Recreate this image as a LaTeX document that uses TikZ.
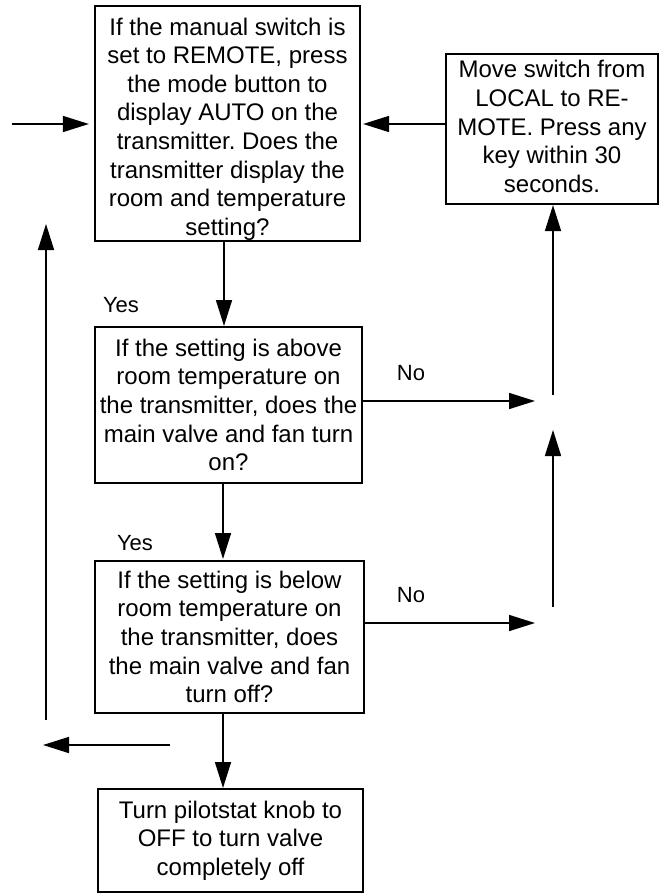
\documentclass[tikz,border=0pt]{standalone}
\usepackage{fontspec}
\setmainfont{Liberation Sans}
\frenchspacing
\usetikzlibrary{arrows.meta}
\begin{document}
\begin{tikzpicture}[x=1pt,y=-1pt,
  box/.style={draw, line width=2.2pt, inner sep=0pt, align=center, font=\fontsize{24}{28.6}\selectfont},
  txt/.style={inner sep=0pt, align=center, font=\fontsize{24}{28.6}\selectfont},
  arr/.style={line width=1.6pt, -{Triangle[length=26pt,width=16pt]}},
  lbl/.style={font=\fontsize{22}{26}\selectfont, inner sep=0pt}]
\useasboundingbox (0,0) rectangle (665,894);
\node[box, minimum width=265pt, minimum height=235pt] (b1) at (227.5,123.5) {};
\node[txt] (b1t) at ([yshift=-5.5pt]b1.center)
  {If the manual switch is\\set to REMOTE, press\\the mode button to\\display AUTO on the\\transmitter. Does the\\transmitter display the\\room and temperature\\setting?};
\node[box, minimum width=212pt, minimum height=150pt] (b5) at (552,129) {};
\node[txt] (b5t) at ([yshift=2.5pt]b5.center)
  {Move switch from\\LOCAL to RE-\\MOTE. Press any\\key within 30\\seconds.};
\node[box, minimum width=267pt, minimum height=156pt] (b2) at (228.5,405)
  {If the setting is above\\room temperature on\\the transmitter, does the\\main valve and fan turn\\on?};
\node[box, minimum width=269pt, minimum height=152pt] (b3) at (229.5,637)
  {If the setting is below\\room temperature on\\the transmitter, does\\the main valve and fan\\turn off?};
\node[box, minimum width=265pt, minimum height=103pt] (b4) at (230.5,840.5)
  {Turn pilotstat knob to\\OFF to turn valve\\completely off};
% free ends
\coordinate (in) at (12,124);
\coordinate (r1) at (535,401);
\coordinate (r1top) at (553,395);
\coordinate (r2) at (535,623);
\coordinate (r2bot) at (553,607);
\coordinate (r2top) at (553,430);
\coordinate (lbot) at (46,720);
\coordinate (ltop) at (46,224);
\coordinate (lret) at (170,745);
\coordinate (lend) at (43,745);
% connectors
\draw[arr, shorten >=5pt] (in) -- (in -| b1.west);
\draw[arr, shorten >=2pt] (b5.west |- 0,124) -- (b1.east |- 0,124);
\draw[arr, shorten >=1pt] (224,241) -- (224,327);
\draw[arr] (b2.east |- r1) -- (r1);
\draw[arr] (r1top) -- (r1top |- b5.south);
\draw[arr] (r2bot) -- (r2top);
\draw[arr] (b3.east |- r2) -- (r2);
\draw[arr, shorten >=2pt] (223,483) -- (223,561);
\draw[arr, shorten >=1pt] (223,713) -- (223,789);
\draw[arr] (lbot) -- (ltop);
\draw[arr] (lret) -- (lend);
% labels
\node[lbl] (y1) at (121,305) {Yes};
\node[lbl] (y2) at (135,543) {Yes};
\node[lbl] (n1) at (411,373) {No};
\node[lbl] (n2) at (411,595) {No};
\end{tikzpicture}
\end{document}
